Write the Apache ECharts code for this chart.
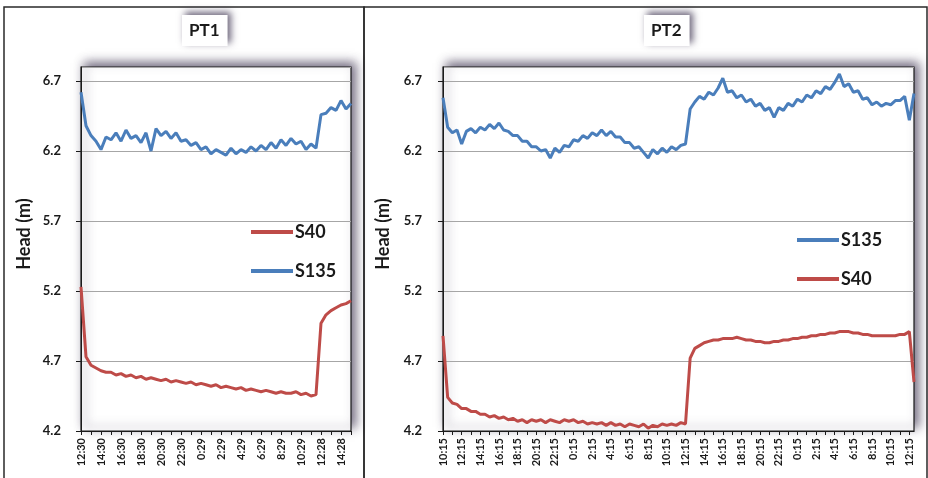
<!DOCTYPE html>
<html>
<head>
<meta charset="utf-8">
<script src="https://cdn.jsdelivr.net/npm/echarts@6/dist/echarts.min.js"></script>
<style>
  html, body { margin: 0; padding: 0; background: #fff; }
  #chart { width: 928px; height: 478px; }
</style>
</head>
<body>
<div id="chart"></div>
<script>
// half-hour readings, tick labels every 2 hours
const pt1Labels = ['12:30','14:30','16:30','18:30','20:30','22:30','0:29','2:29','4:29','6:29','8:29','10:29','12:28','14:28']
const pt2Labels = ['10:15','12:15','14:15','16:15','18:15','20:15','22:15','0:15','2:15','4:15','6:15','8:15','10:15',
  '12:15','14:15','16:15','18:15','20:15','22:15','0:15','2:15','4:15','6:15','8:15','10:15','12:15']

const pt1S135 = [6.62,6.38,6.31,6.27,6.21,6.30,6.28,6.33,6.27,6.35,6.29,6.31,6.26,6.33,6.20,6.36,6.31,6.34,6.29,6.33,
  6.27,6.28,6.24,6.26,6.21,6.23,6.18,6.21,6.19,6.17,6.22,6.18,6.21,6.19,6.23,6.20,6.24,6.21,6.26,6.22,
  6.28,6.24,6.29,6.25,6.27,6.21,6.25,6.22,6.46,6.47,6.51,6.49,6.56,6.50,6.54]
const pt1S40 = [5.23,4.73,4.67,4.65,4.63,4.62,4.62,4.60,4.61,4.59,4.60,4.58,4.59,4.57,4.58,4.57,4.56,4.57,4.55,4.56,
  4.55,4.54,4.55,4.53,4.54,4.53,4.52,4.53,4.51,4.52,4.51,4.50,4.51,4.49,4.50,4.49,4.48,4.49,4.48,4.47,
  4.48,4.47,4.47,4.48,4.46,4.47,4.45,4.46,4.97,5.03,5.06,5.08,5.10,5.11,5.13]

const pt2S135 = [6.58,6.37,6.33,6.35,6.25,6.34,6.36,6.33,6.37,6.35,6.39,6.36,6.40,6.35,6.34,6.31,6.31,6.27,6.27,6.23,
  6.23,6.20,6.21,6.15,6.22,6.19,6.24,6.23,6.28,6.27,6.31,6.29,6.33,6.31,6.35,6.31,6.34,6.30,6.30,6.26,
  6.26,6.22,6.23,6.19,6.15,6.21,6.18,6.22,6.19,6.23,6.21,6.24,6.25,6.50,6.55,6.59,6.57,6.62,6.60,6.65,
  6.72,6.62,6.63,6.58,6.60,6.55,6.57,6.52,6.54,6.49,6.51,6.44,6.51,6.49,6.54,6.52,6.57,6.55,6.60,6.58,
  6.63,6.61,6.66,6.64,6.69,6.75,6.66,6.68,6.62,6.63,6.57,6.58,6.53,6.55,6.52,6.54,6.53,6.56,6.56,6.59,
  6.42,6.61]
const pt2S40 = [4.88,4.44,4.40,4.39,4.36,4.36,4.34,4.34,4.32,4.32,4.30,4.31,4.29,4.30,4.28,4.29,4.27,4.28,4.26,4.28,
  4.27,4.28,4.26,4.28,4.27,4.26,4.28,4.27,4.28,4.26,4.27,4.25,4.26,4.25,4.26,4.24,4.26,4.24,4.25,4.23,
  4.25,4.24,4.23,4.25,4.22,4.24,4.23,4.25,4.24,4.25,4.24,4.26,4.25,4.72,4.79,4.81,4.83,4.84,4.85,4.85,
  4.86,4.86,4.86,4.87,4.86,4.85,4.85,4.84,4.84,4.83,4.83,4.84,4.84,4.85,4.85,4.86,4.86,4.87,4.87,4.88,
  4.88,4.89,4.89,4.90,4.90,4.91,4.91,4.91,4.90,4.90,4.89,4.89,4.88,4.88,4.88,4.88,4.88,4.88,4.89,4.89,
  4.91,4.55]

const RED = '#BE4B48'
const BLUE = '#4A7EBB'
const INK = '#1a1a1a'

// one category per reading, a label on every 4th one
function makeCats(labels, n) {
  let cats = []
  for (let i = 0; i < n; i++) {
    cats.push(i % 4 === 0 && labels[i / 4] ? labels[i / 4] : '')
  }
  return cats
}

function xAxis(idx, cats) {
  return {
    type: 'category',
    gridIndex: idx,
    boundaryGap: false,
    data: cats,
    axisLine: { lineStyle: { color: INK, width: 1 } },
    axisTick: { interval: 1, length: 4, lineStyle: { color: INK } },
    axisLabel: { interval: 3, rotate: 90, margin: 7, fontSize: 11, fontWeight: 'bold', color: INK },
    splitLine: { show: false }
  }
}

function yAxis(idx, gap, margin) {
  return {
    type: 'value',
    gridIndex: idx,
    min: 4.2,
    max: 6.8,
    interval: 0.5,
    name: 'Head (m)',
    nameLocation: 'middle',
    nameGap: gap,
    nameTextStyle: { fontSize: 18, fontWeight: 'bold', color: INK, padding: [0, 0, 0, 30] },
    axisLine: { show: true, lineStyle: { color: INK } },
    axisTick: { show: true, length: 5, lineStyle: { color: INK } },
    axisLabel: {
      showMaxLabel: false, margin: margin, fontSize: 13, fontWeight: 'bold', color: INK,
      formatter: v => v.toFixed(1)
    },
    splitLine: { lineStyle: { color: '#a6a6a6', width: 1 } }
  }
}

function titleBox(text, left) {
  return {
    text: text, left: left, top: 15,
    padding: [7, 8, 7, 7],
    backgroundColor: '#fff',
    shadowColor: 'rgba(50,40,70,0.7)', shadowBlur: 7, shadowOffsetX: 3, shadowOffsetY: -3,
    textStyle: { fontSize: 17, fontWeight: 'bold', color: INK }
  }
}

function legendBox(names, left, top) {
  return {
    data: names, orient: 'vertical', left: left, top: top, padding: 0,
    icon: 'path://M0,0H42V4H0Z',
    itemWidth: 42, itemHeight: 20, itemGap: 21,
    textStyle: { fontSize: 18, fontWeight: 'bold', color: INK, padding: [0, 0, 0, -3] }
  }
}

function lineSeries(name, color, idx, data) {
  return {
    name: name, type: 'line', xAxisIndex: idx, yAxisIndex: idx,
    symbol: 'none', data: data,
    lineStyle: { color: color, width: 3 },
    itemStyle: { color: color }
  }
}

const gridStyle = {
  show: true, backgroundColor: '#fff', borderColor: INK, borderWidth: 1.2,
  shadowColor: 'rgba(50,40,70,0.7)', shadowBlur: 10, shadowOffsetX: 4, shadowOffsetY: -4
}

let option = {
  animation: false,
  backgroundColor: '#fff',
  textStyle: { fontFamily: 'Lato' },
  graphic: [
    { type: 'rect', shape: { x: 4, y: 7, width: 360, height: 490 }, style: { fill: 'none', stroke: '#2a2a2a', lineWidth: 1.5 }, z: -1 },
    { type: 'rect', shape: { x: 364, y: 7, width: 563, height: 490 }, style: { fill: 'none', stroke: '#2a2a2a', lineWidth: 1.5 }, z: -1 }
  ],
  title: [titleBox('PT1', 182), titleBox('PT2', 644)],
  legend: [legendBox(['S40', 'S135'], 251, 223), legendBox(['S135', 'S40'], 797, 231)],
  grid: [
    Object.assign({ left: 81, top: 67, width: 270, height: 364 }, gridStyle),
    Object.assign({ left: 443, top: 67, width: 471, height: 364 }, gridStyle)
  ],
  xAxis: [xAxis(0, makeCats(pt1Labels, pt1S40.length)), xAxis(1, makeCats(pt2Labels, pt2S40.length))],
  yAxis: [yAxis(0, 48, 20), yAxis(1, 51, 21)],
  series: [
    lineSeries('S40', RED, 0, pt1S40),
    lineSeries('S135', BLUE, 0, pt1S135),
    lineSeries('S135', BLUE, 1, pt2S135),
    lineSeries('S40', RED, 1, pt2S40)
  ]
}

let myChart = echarts.init(document.getElementById('chart'))
myChart.setOption(option)
</script>
</body>
</html>
